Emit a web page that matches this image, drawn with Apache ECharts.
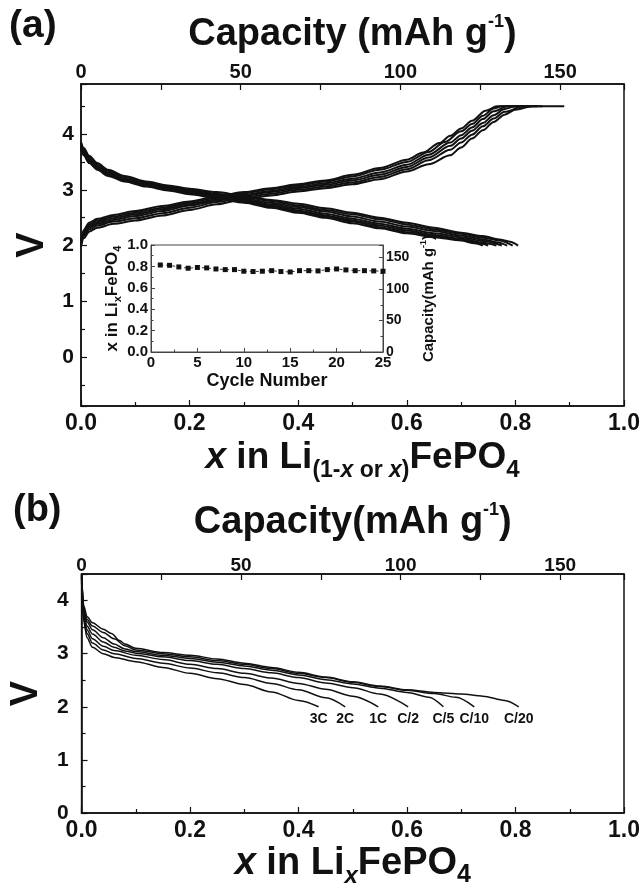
<!DOCTYPE html>
<html>
<head>
<meta charset="utf-8">
<script src="https://cdn.jsdelivr.net/npm/echarts@6/dist/echarts.min.js"></script>
<style>
  html, body { margin: 0; padding: 0; background: #fff; }
  #chart { width: 644px; height: 890px; }
</style>
</head>
<body>
<div id="chart"></div>
<script>
// (a) charge curves, [x, V]
const charge1 = [[0,1.98],[0.005,2.13],[0.015,2.25],[0.03,2.32],[0.06,2.39],[0.1,2.45],[0.15,2.54],[0.2,2.64],[0.25,2.74],[0.3,2.83],[0.35,2.9],[0.4,2.97],[0.45,3.03],[0.5,3.1],[0.55,3.19],[0.6,3.33],[0.64,3.46],[0.68,3.62],[0.7,3.76],[0.72,3.92],[0.74,4.07],[0.76,4.22],[0.78,4.35],[0.8,4.44],[0.83,4.5],[0.89,4.5]]
const charge2 = [[0,2.01],[0.005,2.17],[0.015,2.29],[0.03,2.36],[0.06,2.43],[0.1,2.49],[0.15,2.58],[0.2,2.68],[0.25,2.78],[0.3,2.86],[0.35,2.93],[0.4,3.0],[0.45,3.06],[0.5,3.13],[0.55,3.23],[0.6,3.37],[0.64,3.53],[0.68,3.72],[0.7,3.85],[0.72,3.99],[0.74,4.14],[0.76,4.28],[0.78,4.4],[0.815,4.5],[0.85,4.5]]
const charge3 = [[0,2.03],[0.005,2.2],[0.015,2.32],[0.03,2.39],[0.06,2.46],[0.1,2.53],[0.15,2.62],[0.2,2.72],[0.25,2.81],[0.3,2.89],[0.35,2.96],[0.4,3.03],[0.45,3.09],[0.5,3.17],[0.55,3.27],[0.6,3.41],[0.64,3.58],[0.68,3.79],[0.7,3.92],[0.72,4.06],[0.74,4.2],[0.76,4.34],[0.78,4.45],[0.8,4.5],[0.84,4.5]]
const charge4 = [[0,2.05],[0.005,2.23],[0.015,2.35],[0.03,2.42],[0.06,2.49],[0.1,2.56],[0.15,2.65],[0.2,2.74],[0.25,2.83],[0.3,2.91],[0.35,2.98],[0.4,3.05],[0.45,3.12],[0.5,3.2],[0.55,3.31],[0.6,3.45],[0.64,3.63],[0.68,3.85],[0.7,3.98],[0.72,4.12],[0.74,4.27],[0.76,4.41],[0.785,4.5],[0.83,4.5]]
const charge5 = [[0,2.07],[0.005,2.25],[0.015,2.38],[0.03,2.45],[0.06,2.52],[0.1,2.59],[0.15,2.68],[0.2,2.77],[0.25,2.86],[0.3,2.94],[0.35,3.01],[0.4,3.08],[0.45,3.15],[0.5,3.24],[0.55,3.36],[0.6,3.5],[0.64,3.68],[0.67,3.86],[0.7,4.05],[0.72,4.18],[0.74,4.33],[0.76,4.46],[0.775,4.5],[0.82,4.5]]
const charge6 = [[0,2.09],[0.005,2.28],[0.015,2.41],[0.03,2.48],[0.06,2.55],[0.1,2.62],[0.15,2.71],[0.2,2.79],[0.25,2.88],[0.3,2.96],[0.35,3.03],[0.4,3.1],[0.45,3.17],[0.5,3.27],[0.55,3.39],[0.6,3.54],[0.63,3.67],[0.66,3.84],[0.68,3.97],[0.7,4.1],[0.72,4.24],[0.745,4.42],[0.766,4.5],[0.81,4.5]]

// (a) discharge curves, [x, V]
const discharge1 = [[0,3.86],[0.005,3.75],[0.015,3.61],[0.03,3.48],[0.05,3.36],[0.08,3.25],[0.12,3.15],[0.16,3.08],[0.2,3.02],[0.25,2.96],[0.3,2.89],[0.35,2.82],[0.4,2.75],[0.45,2.67],[0.5,2.59],[0.55,2.5],[0.6,2.41],[0.65,2.32],[0.7,2.23],[0.74,2.17],[0.77,2.11],[0.79,2.07],[0.805,2.0]]
const discharge2 = [[0,3.84],[0.005,3.73],[0.015,3.59],[0.03,3.46],[0.05,3.34],[0.08,3.23],[0.12,3.13],[0.16,3.06],[0.2,3.0],[0.25,2.93],[0.3,2.87],[0.35,2.8],[0.4,2.72],[0.45,2.64],[0.5,2.56],[0.55,2.47],[0.6,2.38],[0.65,2.29],[0.7,2.21],[0.74,2.14],[0.77,2.09],[0.795,2.0]]
const discharge3 = [[0,3.82],[0.005,3.7],[0.015,3.56],[0.03,3.43],[0.05,3.31],[0.08,3.2],[0.12,3.11],[0.16,3.04],[0.2,2.98],[0.25,2.91],[0.3,2.84],[0.35,2.77],[0.4,2.69],[0.45,2.61],[0.5,2.52],[0.55,2.43],[0.6,2.34],[0.65,2.26],[0.7,2.18],[0.74,2.11],[0.765,2.06],[0.785,2.0]]
const discharge4 = [[0,3.8],[0.005,3.68],[0.015,3.54],[0.03,3.41],[0.05,3.3],[0.08,3.19],[0.12,3.1],[0.16,3.03],[0.2,2.97],[0.25,2.9],[0.3,2.82],[0.35,2.74],[0.4,2.66],[0.45,2.57],[0.5,2.48],[0.55,2.39],[0.6,2.3],[0.65,2.22],[0.7,2.15],[0.74,2.08],[0.775,2.0]]
const discharge5 = [[0,3.78],[0.005,3.66],[0.015,3.52],[0.03,3.4],[0.05,3.29],[0.08,3.18],[0.12,3.09],[0.16,3.02],[0.2,2.95],[0.25,2.88],[0.3,2.8],[0.35,2.72],[0.4,2.63],[0.45,2.54],[0.5,2.45],[0.55,2.36],[0.6,2.27],[0.65,2.19],[0.7,2.12],[0.74,2.05],[0.765,2.0]]
const discharge6 = [[0,3.76],[0.005,3.64],[0.015,3.5],[0.03,3.38],[0.05,3.27],[0.08,3.17],[0.12,3.08],[0.16,3.0],[0.2,2.94],[0.25,2.86],[0.3,2.78],[0.35,2.7],[0.4,2.61],[0.45,2.52],[0.5,2.43],[0.55,2.33],[0.6,2.24],[0.65,2.17],[0.7,2.1],[0.73,2.05],[0.75,2.0]]
const discharge7 = [[0,3.74],[0.005,3.62],[0.015,3.48],[0.03,3.36],[0.05,3.25],[0.08,3.15],[0.12,3.06],[0.16,2.99],[0.2,2.92],[0.25,2.85],[0.3,2.77],[0.35,2.68],[0.4,2.59],[0.45,2.5],[0.5,2.4],[0.55,2.31],[0.6,2.22],[0.65,2.15],[0.7,2.09],[0.725,2.04],[0.74,2.0]]

// inset: x in LixFePO4 per cycle
const cycles = [1,2,3,4,5,6,7,8,9,10,11,12,13,14,15,16,17,18,19,20,21,22,23,24,25]
const xPerCycle = [0.813,0.81,0.795,0.783,0.79,0.786,0.776,0.77,0.77,0.755,0.752,0.755,0.76,0.752,0.748,0.76,0.76,0.758,0.77,0.776,0.767,0.76,0.76,0.758,0.755]

// (b) discharge at different rates, [x, V]
const rateNames = ['C/20','C/10','C/5','C/2','1C','2C','3C']
const rateC20 = [[0,4.5],[0.004,3.9],[0.01,3.7],[0.02,3.58],[0.04,3.46],[0.055,3.38],[0.07,3.25],[0.08,3.18],[0.1,3.1],[0.15,3.02],[0.2,2.97],[0.25,2.9],[0.3,2.82],[0.35,2.74],[0.4,2.65],[0.45,2.56],[0.5,2.47],[0.55,2.39],[0.6,2.32],[0.65,2.27],[0.7,2.24],[0.74,2.2],[0.78,2.12],[0.806,2.0]]
const rateC10 = [[0,4.48],[0.004,3.85],[0.01,3.65],[0.02,3.52],[0.04,3.4],[0.06,3.28],[0.08,3.15],[0.1,3.07],[0.15,3.0],[0.2,2.94],[0.25,2.87],[0.3,2.8],[0.35,2.72],[0.4,2.63],[0.45,2.55],[0.5,2.46],[0.55,2.38],[0.6,2.31],[0.65,2.25],[0.69,2.18],[0.724,2.0]]
const rateC5 = [[0,4.47],[0.004,3.8],[0.01,3.6],[0.02,3.45],[0.04,3.3],[0.06,3.18],[0.08,3.09],[0.1,3.04],[0.15,2.97],[0.2,2.91],[0.25,2.84],[0.3,2.77],[0.35,2.69],[0.4,2.6],[0.45,2.51],[0.5,2.43],[0.55,2.35],[0.6,2.27],[0.64,2.18],[0.667,2.0]]
const rateC2 = [[0,4.45],[0.004,3.75],[0.01,3.52],[0.02,3.37],[0.04,3.22],[0.06,3.12],[0.08,3.05],[0.1,3.01],[0.15,2.94],[0.2,2.87],[0.25,2.8],[0.3,2.72],[0.35,2.64],[0.4,2.55],[0.45,2.45],[0.5,2.36],[0.55,2.24],[0.602,2.0]]
const rate1C = [[0,4.42],[0.004,3.7],[0.01,3.45],[0.02,3.28],[0.04,3.14],[0.06,3.06],[0.1,2.97],[0.15,2.89],[0.2,2.8],[0.25,2.72],[0.3,2.63],[0.35,2.54],[0.4,2.44],[0.45,2.33],[0.5,2.2],[0.547,2.0]]
const rate2C = [[0,4.4],[0.004,3.65],[0.01,3.38],[0.02,3.2],[0.04,3.07],[0.06,3.0],[0.1,2.91],[0.15,2.82],[0.2,2.73],[0.25,2.64],[0.3,2.55],[0.35,2.44],[0.4,2.32],[0.45,2.17],[0.486,2.0]]
const rate3C = [[0,4.35],[0.004,3.6],[0.01,3.3],[0.02,3.12],[0.04,3.0],[0.06,2.93],[0.1,2.85],[0.15,2.74],[0.2,2.63],[0.25,2.53],[0.3,2.42],[0.35,2.28],[0.4,2.12],[0.437,2.0]]

const chargeCurves = [charge1, charge2, charge3, charge4, charge5, charge6]
const dischargeCurves = [discharge1, discharge2, discharge3, discharge4, discharge5, discharge6, discharge7]
const rateCurves = [rateC20, rateC10, rateC5, rateC2, rate1C, rate2C, rate3C]

const FF = "'Liberation Sans', Arial, Helvetica, sans-serif"
const INK = '#111'
const txt = (size, extra) => Object.assign({ fontFamily: FF, fontSize: size, fontWeight: 'bold', color: INK }, extra || {})

const frameAxis = (o) => Object.assign({
  type: 'value',
  nameLocation: 'middle',
  axisLine: { show: true, onZero: false, lineStyle: { color: INK, width: 1.5 } },
  axisTick: { show: true, inside: true, length: 6, lineStyle: { color: INK, width: 1.2 } },
  minorTick: { show: true, splitNumber: 2, length: 4, lineStyle: { color: INK, width: 1.2 } },
  splitLine: { show: false },
  minorSplitLine: { show: false }
}, o)

const oneDec = v => v.toFixed(1)
const intOnly = v => Math.abs(v - Math.round(v)) < 1e-6 ? String(Math.round(v)) : ''
const fifties = v => Math.abs(v % 50) < 1e-6 ? String(v) : ''

// rich text pieces for the big axis names
const bigRich = (main, sub) => ({
  m: txt(main, { lineHeight: 48, verticalAlign: 'middle' }),
  mi: txt(main, { lineHeight: 48, verticalAlign: 'middle', fontStyle: 'italic' }),
  s: txt(sub, { lineHeight: 16, verticalAlign: 'bottom' }),
  si: txt(sub, { lineHeight: 16, verticalAlign: 'bottom', fontStyle: 'italic' }),
  f: txt(sub + 1, { lineHeight: 16, verticalAlign: 'bottom' })
})
const capRich = {
  m: txt(38, { lineHeight: 44, verticalAlign: 'middle' }),
  u: txt(18, { lineHeight: 20, verticalAlign: 'top' })
}

const myChart = echarts.init(document.getElementById('chart'))

const series = []
chargeCurves.concat(dischargeCurves).forEach((d, i) => {
  series.push({
    name: 'a' + i, type: 'line', xAxisIndex: 0, yAxisIndex: 0, data: d,
    showSymbol: false, smooth: 0.3, smoothMonotone: 'x', silent: true,
    lineStyle: { color: INK, width: 2 }
  })
})
series.push({
  name: 'inset', type: 'line', xAxisIndex: 2, yAxisIndex: 1,
  data: cycles.map((c, i) => [c, xPerCycle[i]]),
  symbol: 'rect', symbolSize: 5, silent: true,
  itemStyle: { color: INK },
  lineStyle: { color: '#333', width: 1, type: [3, 3] }
})
rateCurves.forEach((d, i) => {
  series.push({
    name: rateNames[i], type: 'line', xAxisIndex: 3, yAxisIndex: 3, data: d,
    showSymbol: false, smooth: 0.3, smoothMonotone: 'x', silent: true,
    lineStyle: { color: INK, width: 1.5 },
    endLabel: Object.assign(txt(14), {
      show: true, formatter: rateNames[i], distance: 0,
      align: 'center', verticalAlign: 'top', padding: [5, 0, 0, 0]
    })
  })
})

const option = {
  animation: false,
  backgroundColor: '#fff',
  title: [
    { text: '(a)', left: 9, top: 7, padding: 0, textStyle: txt(39) },
    { text: '(b)', left: 13, top: 492, padding: 0, textStyle: txt(38) }
  ],
  grid: [
    { left: 81, top: 84, width: 543, height: 322, show: true, borderColor: INK, borderWidth: 1.5 },
    { left: 151, top: 245, width: 232, height: 107, show: true, borderColor: '#444', borderWidth: 1, backgroundColor: '#fff' },
    { left: 81, top: 574, width: 543, height: 239, show: true, borderColor: INK, borderWidth: 1.5 }
  ],
  xAxis: [
    frameAxis({
      gridIndex: 0, position: 'bottom', min: 0, max: 1, interval: 0.2,
      axisLabel: txt(23, { formatter: oneDec, margin: 6 }),
      name: '{mi|x}{m| in Li}{s|(1-}{si|x}{s| or }{si|x}{s|)}{m|FePO}{f|4}',
      nameGap: 28, nameTextStyle: { rich: bigRich(37, 23), padding: [0, 0, 0, 20] }
    }),
    frameAxis({
      gridIndex: 0, position: 'top', min: 0, max: 170, interval: 25,
      minorTick: { show: false },
      axisLabel: txt(20, { formatter: fifties, margin: 2 }),
      name: '{m|Capacity (mAh g}{u|-1}{m|)}',
      nameGap: 27, nameTextStyle: { rich: capRich }
    }),
    frameAxis({
      gridIndex: 1, position: 'bottom', min: 0, max: 25, interval: 5,
      axisLine: { show: true, onZero: false, lineStyle: { color: '#444', width: 1 } },
      axisTick: { show: true, inside: true, length: 4, lineStyle: { color: '#444', width: 1 } },
      minorTick: { show: true, splitNumber: 2, length: 2.5, lineStyle: { color: '#444', width: 1 } },
      axisLabel: txt(15, { margin: 3 }),
      name: 'Cycle Number', nameGap: 20, nameTextStyle: txt(18)
    }),
    frameAxis({
      gridIndex: 2, position: 'bottom', min: 0, max: 1, interval: 0.2,
      axisLabel: txt(23, { formatter: oneDec, margin: 6 }),
      name: '{mi|x}{m| in Li}{si|x}{m|FePO}{f|4}',
      nameGap: 27, nameTextStyle: { rich: bigRich(38, 24) }
    }),
    frameAxis({
      gridIndex: 2, position: 'top', min: 0, max: 170, interval: 25,
      minorTick: { show: false },
      axisLabel: txt(19, { formatter: fifties, margin: -1 }),
      name: '{m|Capacity(mAh g}{u|-1}{m|)}',
      nameGap: 29, nameTextStyle: { rich: capRich }
    })
  ],
  yAxis: [
    frameAxis({
      gridIndex: 0, position: 'left', min: -0.88, max: 4.9,
      axisLabel: txt(21, { formatter: intOnly, margin: 7 }),
      name: 'V', nameGap: 24, nameRotate: 90, nameTextStyle: txt(38)
    }),
    frameAxis({
      gridIndex: 1, position: 'left', min: 0, max: 1, interval: 0.2,
      axisLine: { show: true, onZero: false, lineStyle: { color: '#444', width: 1 } },
      axisTick: { show: true, inside: true, length: 4, lineStyle: { color: '#444', width: 1 } },
      minorTick: { show: true, splitNumber: 2, length: 2.5, lineStyle: { color: '#444', width: 1 } },
      axisLabel: txt(15, { formatter: oneDec, margin: 3 }),
      name: '{m|x in Li}{s|x}{m|FePO}{s|4}', nameGap: 26, nameRotate: 90,
      nameTextStyle: { rich: {
        m: txt(17, { lineHeight: 22, verticalAlign: 'middle' }),
        s: txt(11, { lineHeight: 8, verticalAlign: 'bottom' })
      } }
    }),
    frameAxis({
      gridIndex: 1, position: 'right', min: 0, max: 170, interval: 50,
      axisLine: { show: true, onZero: false, lineStyle: { color: '#444', width: 1 } },
      axisTick: { show: true, inside: true, length: 4, lineStyle: { color: '#444', width: 1 } },
      minorTick: { show: true, splitNumber: 2, length: 2.5, lineStyle: { color: '#444', width: 1 } },
      axisLabel: txt(14, { formatter: fifties, margin: 3 }),
      name: '{m|Capacity(mAh g}{u|-1}{m|)}', nameGap: 36, nameRotate: 90,
      nameTextStyle: { rich: {
        m: txt(15, { lineHeight: 20, verticalAlign: 'middle' }),
        u: txt(9, { lineHeight: 8, verticalAlign: 'top' })
      } }
    }),
    frameAxis({
      gridIndex: 2, position: 'left', min: 0, max: 4.5, interval: 1,
      axisLabel: txt(21, { formatter: intOnly, margin: 13 }),
      name: 'V', nameGap: 24, nameRotate: 90, nameTextStyle: txt(38)
    })
  ],
  series: series
}

option && myChart.setOption(option)
</script>
</body>
</html>
